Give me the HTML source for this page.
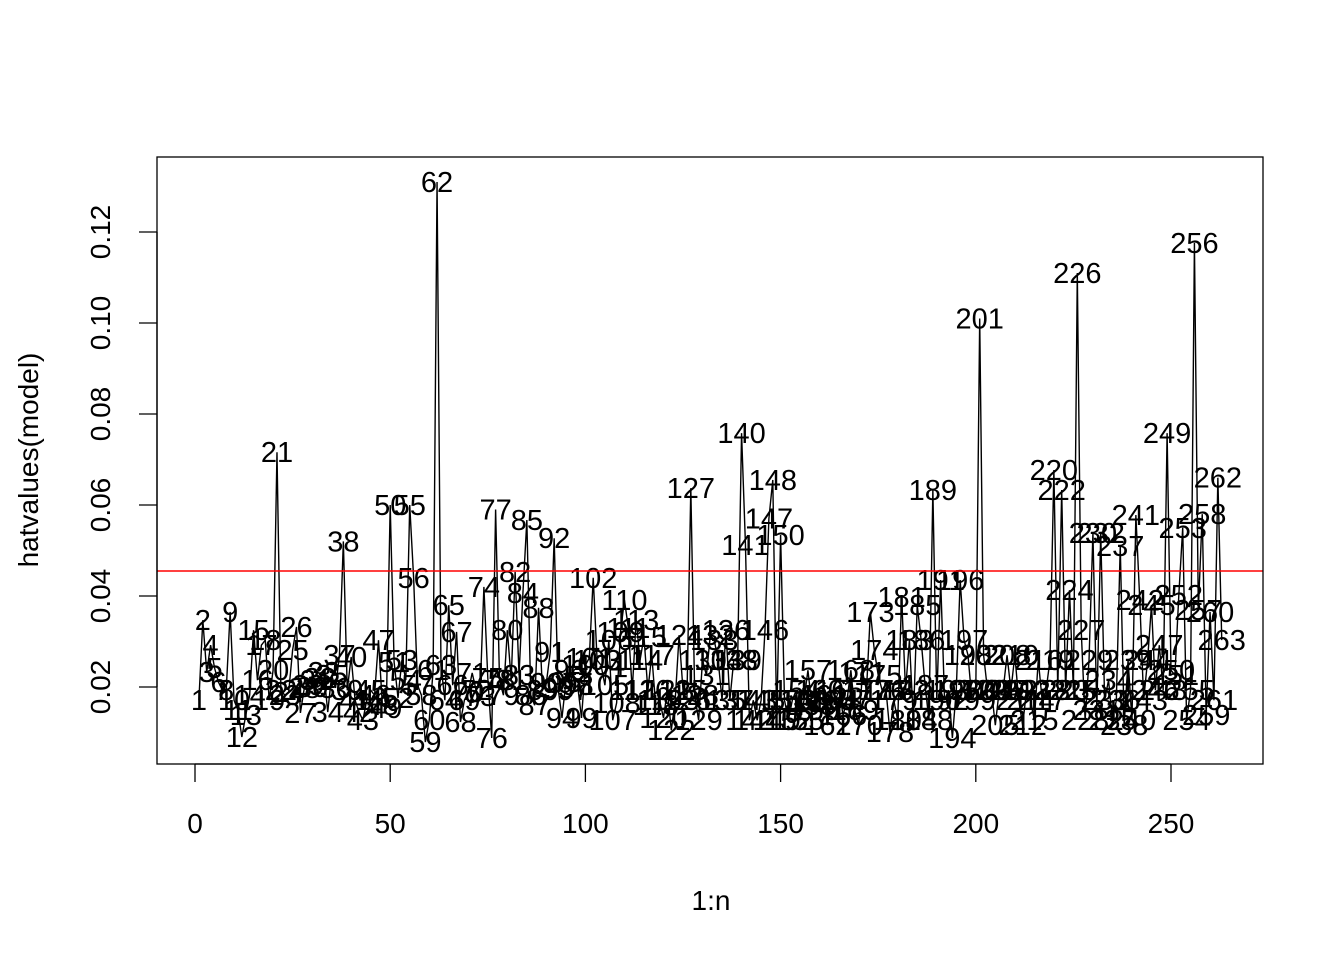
<!DOCTYPE html>
<html><head><meta charset="utf-8"><style>
html,body{margin:0;padding:0;background:#fff;}
svg{display:block;font-family:"Liberation Sans",Arial,sans-serif;}
</style></head><body>
<svg id="chart" width="1344" height="960" viewBox="0 0 1344 960" xmlns="http://www.w3.org/2000/svg">
<rect x="0" y="0" width="1344" height="960" fill="#fff"/>
<g id="marks"></g>
<rect x="157" y="157" width="1106" height="607" fill="none" stroke="#000" stroke-width="1.3"/>
<g id="axes"></g>
<text x="711" y="910" font-size="28" text-anchor="middle">1:n</text>
<text transform="translate(38,460) rotate(-90)" font-size="28" text-anchor="middle">hatvalues(model)</text>
</svg>
<script>
const values = [.0171,.0347,.0233,.0292,.0242,.0211,.0193,.0193,.0365,.0171,
.0149,.009,.0138,.0182,.0325,.0215,.0292,.0303,.0171,.0237,
.0716,.0193,.0182,.0189,.0281,.0332,.0143,.0198,.0204,.02,
.0215,.022,.0233,.0145,.0226,.0198,.027,.052,.0193,.0266,
.0171,.0145,.0127,.0171,.0193,.0182,.0303,.016,.0154,.060,
.0255,.0176,.0259,.0215,.060,.044,.0204,.0182,.0079,.0127,
.0237,.131,.0248,.0171,.038,.0204,.0321,.0123,.0171,.0189,
.0231,.0193,.018,.042,.022,.0088,.059,.0215,.0182,.0325,
.0215,.0453,.0226,.0407,.0567,.0182,.016,.0374,.0193,.0209,
.0277,.0527,.0198,.0132,.0211,.0237,.0193,.0204,.0132,.0248,
.0264,.044,.0259,.0248,.0204,.0303,.0127,.0165,.0321,.0391,
.033,.0193,.0347,.0259,.031,.0193,.027,.016,.0171,.0132,
.0193,.0105,.0171,.0314,.0193,.0171,.0637,.0182,.0127,.0259,
.0226,.0314,.0303,.0259,.0171,.0325,.0171,.0259,.0259,.0758,
.0512,.0127,.0171,.0127,.0171,.0325,.057,.0655,.0127,.0534,
.0171,.0127,.0171,.0193,.0127,.0171,.0237,.016,.0149,.0193,
.0182,.0116,.0171,.0171,.0193,.0138,.0171,.0237,.0149,.0116,
.0233,.0193,.0365,.0281,.0226,.0193,.0193,.0101,.0171,.0127,
.0398,.0193,.0303,.0127,.038,.0303,.0204,.0127,.0633,.0171,
.0435,.0171,.0193,.0088,.0193,.0435,.0303,.027,.0171,.0193,
.101,.027,.0193,.0193,.0116,.0193,.0193,.027,.0193,.027,
.0171,.0116,.0193,.0171,.0127,.0259,.0171,.0193,.0259,.0677,
.0193,.0633,.0193,.0413,.0193,.111,.0325,.0127,.0259,.0538,
.0149,.0538,.0171,.0215,.0127,.0171,.051,.0116,.0259,.0127,
.0578,.0391,.0171,.0259,.038,.0193,.0292,.0193,.0758,.0237,
.0226,.0402,.055,.0127,.0193,.1176,.0369,.058,.0138,.0365,
.0171,.066,.0303];
const xTicks = [0,50,100,150,200,250];
const yTicks = [0.02,0.04,0.06,0.08,0.10,0.12];
const yTickLabels = ["0.02","0.04","0.06","0.08","0.10","0.12"];
const cutoff = 0.0455;

const NS = "http://www.w3.org/2000/svg";
function sx(v){ return 195 + v*(976/250); }
function sy(v){ return 687 - (v-0.02)*4550; }
const marks = document.getElementById('marks');
const axes = document.getElementById('axes');
function mk(tag, attrs, parent){ const e=document.createElementNS(NS,tag); for(const k in attrs) e.setAttribute(k,attrs[k]); parent.appendChild(e); return e; }

let d = values.map((v,i)=>(i?'L':'M')+sx(i+1).toFixed(2)+','+sy(v).toFixed(2)).join(' ');
const line = mk('path',{d:d,fill:'none',stroke:'#000','stroke-width':1.4},marks);



values.forEach((v,i)=>{
  const t = mk('text',{x:sx(i+1),y:sy(v)+10,'font-size':29,'text-anchor':'middle'},marks);
  t.textContent = String(i+1);
  
  
});

const cl = mk('line',{x1:157,x2:1263,y1:sy(cutoff),y2:sy(cutoff),stroke:'#ff0000','stroke-width':1.5},marks);



const xa = mk('line',{x1:sx(xTicks[0]),x2:sx(xTicks[xTicks.length-1]),y1:764,y2:764,stroke:'#000','stroke-width':1.3},axes);


xTicks.forEach(v=>{
  const tk = mk('line',{x1:sx(v),x2:sx(v),y1:764,y2:782,stroke:'#000','stroke-width':1.3},axes);
  
  
  const tl = mk('text',{x:sx(v),y:833,'font-size':28,'text-anchor':'middle'},axes);
  tl.textContent = String(v);
  
  
});
const ya = mk('line',{x1:157,x2:157,y1:sy(yTicks[0]),y2:sy(yTicks[yTicks.length-1]),stroke:'#000','stroke-width':1.3},axes);


yTicks.forEach((v,i)=>{
  const tk = mk('line',{x1:139,x2:157,y1:sy(v),y2:sy(v),stroke:'#000','stroke-width':1.3},axes);
  
  
  const tl = mk('text',{transform:'translate(110,'+sy(v)+') rotate(-90)','font-size':28,'text-anchor':'middle'},axes);
  tl.textContent = yTickLabels[i];
  
  
});
</script>
</body></html>
